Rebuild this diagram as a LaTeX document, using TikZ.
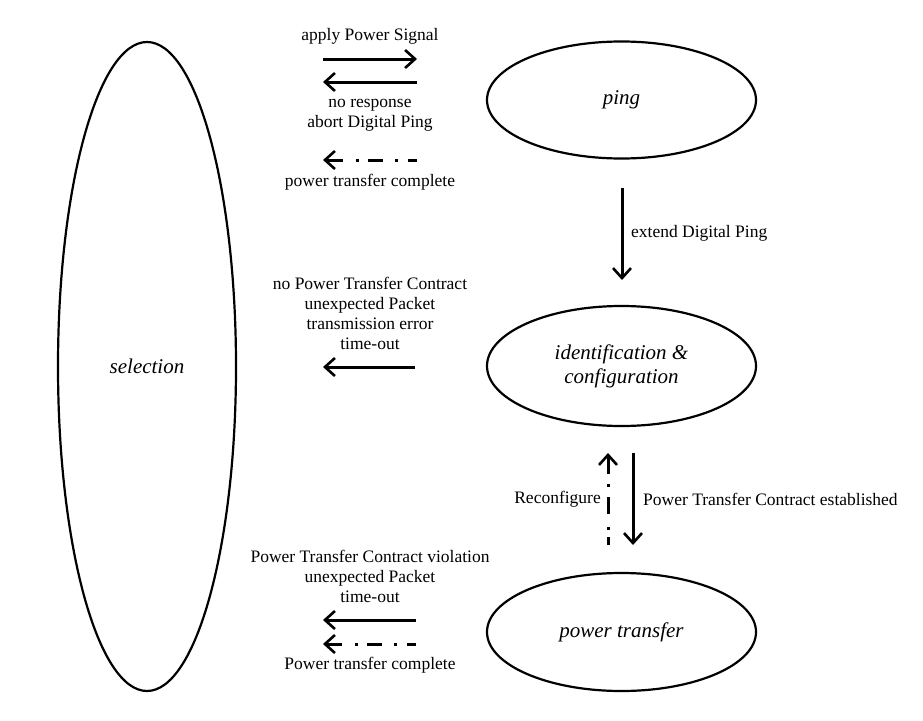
\documentclass[tikz,border=0pt]{standalone}
\usepackage{fontspec}
\setmainfont{Liberation Serif}
\usetikzlibrary{shapes.geometric,arrows.meta}
\begin{document}
\begin{tikzpicture}[x=1pt,y=-1pt,
  state/.style={draw,ellipse,line width=2.2pt,inner sep=0pt,align=center,
    font=\fontsize{21}{24}\selectfont\itshape},
  lbl/.style={inner sep=0pt,align=center,font=\fontsize{17.5}{20}\selectfont},
  arr/.style={line width=3pt,-{Straight Barb[length=10pt,width=18pt,line width=2.6pt]}},
  ddh/.style={arr,dash pattern=on 9pt off 10pt on 3pt off 12pt on 15pt off 9pt on 3pt off 13pt on 60pt},
  ddv/.style={arr,dash pattern=on 8pt off 7pt on 3pt off 13pt on 17pt off 10pt on 3pt off 10pt on 60pt}
]
\useasboundingbox (0,0) rectangle (923,720);

% states
\node[state,minimum width=178pt,minimum height=649pt] (sel) at (147,366.5) {selection};
\node[state,minimum width=269pt,minimum height=117pt] (ping) at (621.5,100) {ping};
\node[state,minimum width=269pt,minimum height=120pt] (idc) at (621.5,366) {identification \&\\configuration};
\node[state,minimum width=269pt,minimum height=118pt] (pt) at (621.5,632) {power transfer};

% arrow end points
\coordinate (a1s) at (323,59);  \coordinate (a1e) at (417,59);
\coordinate (a2s) at (417,82);  \coordinate (a2e) at (323,82);
\coordinate (a3s) at (417,160); \coordinate (a3e) at (323,160);
\coordinate (a4s) at (415,367); \coordinate (a4e) at (323,367);
\coordinate (a5s) at (416,620); \coordinate (a5e) at (323,620);
\coordinate (a6s) at (416,644); \coordinate (a6e) at (323,644);
\coordinate (v1s) at (622,188); \coordinate (v1e) at (622,280);
\coordinate (v2s) at (633,453); \coordinate (v2e) at (633,545);
\coordinate (v3s) at (608,545); \coordinate (v3e) at (608,453);

% arrows
\draw[arr] (a1s) -- (a1e);
\draw[arr] (a2s) -- (a2e);
\draw[ddh] (a3s) -- (a3e);
\draw[arr] (a4s) -- (a4e);
\draw[arr] (a5s) -- (a5e);
\draw[ddh] (a6s) -- (a6e);
\draw[arr] (v1s) -- (v1e);
\draw[arr] (v2s) -- (v2e);
\draw[ddv] (v3s) -- (v3e);

% labels
\node[lbl] (l1) at (370,36) {apply Power Signal};
\node[lbl] (l2) at (370,115.5) {no response\\abort Digital Ping};
\node[lbl] (l3) at (370,182) {power transfer complete};
\node[lbl] (l4) at (370,313.5) {no Power Transfer Contract\\unexpected Packet\\transmission error\\time-out};
\node[lbl] (l5) at (370,576) {Power Transfer Contract violation\\unexpected Packet\\time-out};
\node[lbl] (l6) at (370,665) {Power transfer complete};
\node[lbl,anchor=west] (l7) at (631,233) {extend Digital Ping};
\node[lbl,anchor=east] (l8) at (601,499) {Reconfigure};
\node[lbl,anchor=west] (l9) at (643,499) {Power Transfer Contract established};
\end{tikzpicture}
\end{document}
